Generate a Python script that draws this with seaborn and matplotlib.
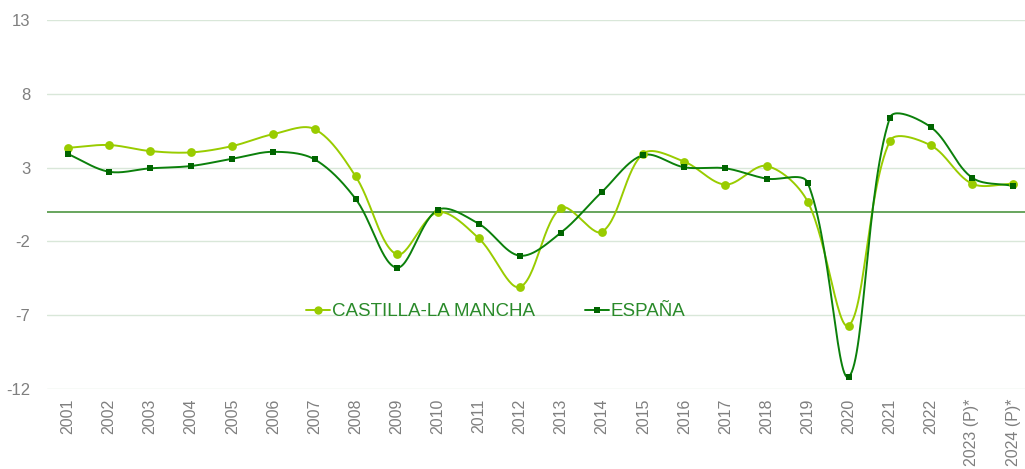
import numpy as np
import pandas as pd
import matplotlib
matplotlib.use("Agg")
import matplotlib.pyplot as plt
import seaborn as sns
from matplotlib.lines import Line2D

years = ["2001", "2002", "2003", "2004", "2005", "2006", "2007", "2008", "2009", "2010",
         "2011", "2012", "2013", "2014", "2015", "2016", "2017", "2018", "2019", "2020",
         "2021", "2022", "2023 (P)*", "2024 (P)*"]
clm = [4.34, 4.53, 4.12, 4.03, 4.46, 5.27, 5.61, 2.41, -2.88, -0.02,
       -1.80, -5.09, 0.27, -1.35, 3.95, 3.40, 1.85, 3.11, 0.70, -7.70,
       4.80, 4.50, 1.91, 1.91]
esp = [3.92, 2.72, 2.95, 3.11, 3.60, 4.07, 3.56, 0.88, -3.78, 0.14,
       -0.81, -2.97, -1.40, 1.37, 3.85, 3.02, 2.95, 2.25, 1.98, -11.17,
       6.37, 5.74, 2.32, 1.76]
series_names = ["CASTILLA-LA MANCHA", "ESPAÑA"]
yticks = [13, 8, 3, -2, -7, -12]

C_CLM = "#99cc00"
C_ESP_LINE = "#0b800b"
C_ESP_MK = "#006400"
C_TEXT = "#2a8a2a"
C_TICK = "#7f7f7f"

# pixel size of one x step / one y unit, used only to shape the smoothed drawing path
SX, SY = 41.1, 14.8


def smooth(ys, n=30):
    """Excel-style smoothed Bezier drawing path through the points (chord-weighted tangents)."""
    ys = np.asarray(ys, float)
    xs = np.arange(len(ys), dtype=float)
    P = np.column_stack([xs * SX, ys * SY])
    out = []
    for i in range(len(P) - 1):
        p0 = P[i - 1] if i > 0 else P[i]
        p1 = P[i]
        p2 = P[i + 1]
        p3 = P[i + 2] if i + 2 < len(P) else P[i + 1]
        d01 = np.linalg.norm(p1 - p0)
        d12 = np.linalg.norm(p2 - p1)
        d23 = np.linalg.norm(p3 - p2)
        f = 1.0 / 3.0
        c1 = p1 + (p2 - p0) * (f * d12 / (d01 + d12)) if d01 + d12 > 0 else p1
        c2 = p2 - (p3 - p1) * (f * d12 / (d12 + d23)) if d12 + d23 > 0 else p2
        t = np.linspace(0, 1, n, endpoint=False)[:, None]
        seg = ((1 - t) ** 3) * p1 + 3 * ((1 - t) ** 2) * t * c1 + 3 * (1 - t) * t ** 2 * c2 + t ** 3 * p2
        out.append(seg)
    out.append(P[-1:])
    path = np.vstack(out)
    return path[:, 0] / SX, path[:, 1] / SY


sns.set_theme(style="white")
plt.rcParams["font.family"] = ["Liberation Sans", "DejaVu Sans"]

fig = plt.figure(figsize=(10.25, 4.69), dpi=100)
ax = fig.add_axes([47 / 1025, 1 - 389 / 469, 1 - 47 / 1025, (389 - 20) / 469])

for yt in yticks:
    ax.axhline(yt, color="#d9e7d9", lw=1.0, zorder=0)
ax.axhline(0, color="#5c9e50", lw=1.3, zorder=1)

xi = np.arange(len(years))
for vals, lc, mc, mk, ms in [(clm, C_CLM, C_CLM, "o", 40), (esp, C_ESP_LINE, C_ESP_MK, "s", 22)]:
    px, py = smooth(vals)
    dfp = pd.DataFrame({"x": px, "y": py})
    sns.lineplot(data=dfp, x="x", y="y", sort=False, estimator=None, color=lc, lw=1.4, ax=ax, zorder=3)
    dfm = pd.DataFrame({"x": xi, "y": vals})
    sns.scatterplot(data=dfm, x="x", y="y", marker=mk, color=mc, s=ms, linewidth=0, ax=ax, zorder=4)

ax.set_xlim(-0.51, 23.29)
ax.set_ylim(-12, 13)
ax.set_yticks(yticks)
ax.set_yticklabels([str(v) for v in yticks], color=C_TICK, fontsize=12)
ax.set_xticks(xi)
ax.set_xticklabels(years, rotation=90, color=C_TICK, fontsize=11.5)
ax.tick_params(axis="both", length=0, pad=7)
ax.tick_params(axis="y", pad=12)
ax.set_xlabel("")
ax.set_ylabel("")
for s in ax.spines.values():
    s.set_visible(False)

handles = [
    Line2D([], [], color=C_CLM, lw=1.4, marker="o", markersize=6, markerfacecolor=C_CLM, markeredgewidth=0),
    Line2D([], [], color=C_ESP_LINE, lw=1.4, marker="s", markersize=4.5, markerfacecolor=C_ESP_MK, markeredgewidth=0),
]
leg = ax.legend(handles, series_names, loc="center", bbox_to_anchor=(0.459, 0.209), ncol=2,
                frameon=False, fontsize=13.5, handlelength=1.25, handletextpad=0.1,
                columnspacing=2.7, borderpad=0)
for t in leg.get_texts():
    t.set_color(C_TEXT)

fig.savefig("out.png", dpi=100)
